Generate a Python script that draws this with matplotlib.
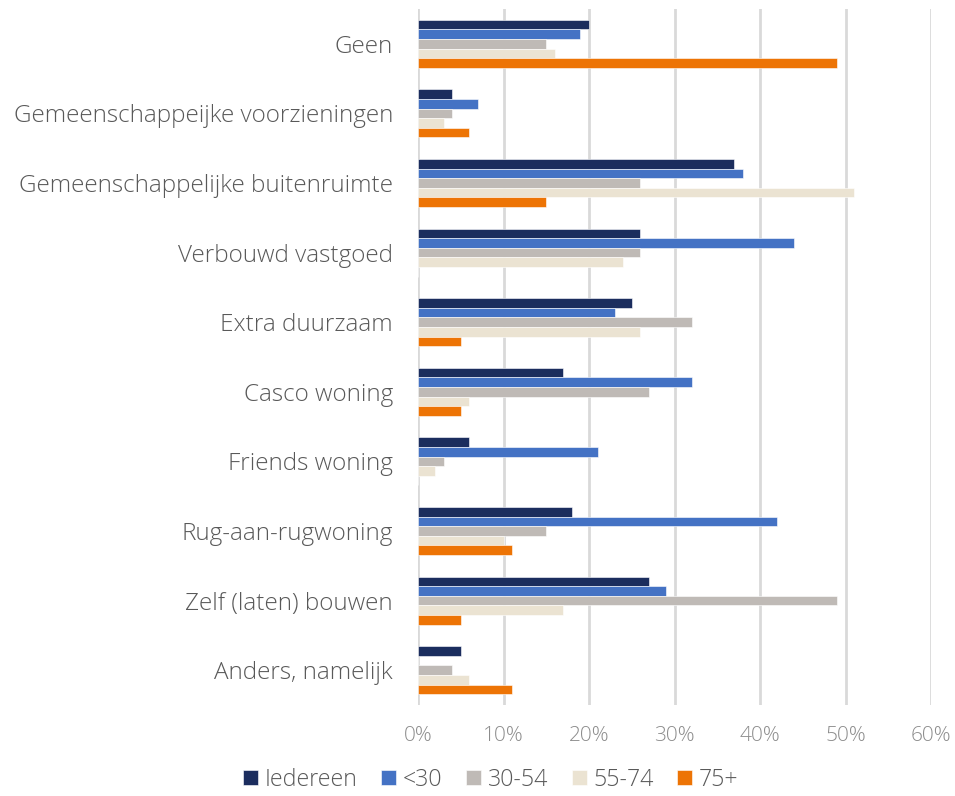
import matplotlib
matplotlib.use("Agg")
import matplotlib.pyplot as plt
import numpy as np

categories = ["Geen", "Gemeenschappeijke voorzieningen", "Gemeenschappelijke buitenruimte",
              "Verbouwd vastgoed", "Extra duurzaam", "Casco woning", "Friends woning",
              "Rug-aan-rugwoning", "Zelf (laten) bouwen", "Anders, namelijk"]
series_names = ["Iedereen", "<30", "30-54", "55-74", "75+"]
iedereen = [20, 4, 37, 26, 25, 17, 6, 18, 27, 5]
onder30 = [19, 7, 38, 44, 23, 32, 21, 42, 29, 0]
s30_54 = [15, 4, 26, 26, 32, 27, 3, 15, 49, 4]
s55_74 = [16, 3, 51, 24, 26, 6, 2, 10, 17, 6]
s75plus = [49, 6, 15, 0, 5, 5, 0, 11, 5, 11]
xticks = [0, 10, 20, 30, 40, 50, 60]
xticklabels = ["0%", "10%", "20%", "30%", "40%", "50%", "60%"]

colors = ["#1B2D5E", "#4472C4", "#BFBAB6", "#EBE3D2", "#ED7405"]
values = [iedereen, onder30, s30_54, s55_74, s75plus]

plt.rcParams['font.family'] = ['Open Sans', 'DejaVu Sans']
plt.rcParams['font.weight'] = 'light'

fig = plt.figure(figsize=(9.55, 7.96), dpi=100)
ax = fig.add_axes([418/955, 1-705/796, (931-418)/955, (705-9)/796])

y = np.arange(len(categories))
h = 0.138
for i, (name, vals, c) in enumerate(zip(series_names, values, colors)):
    ax.barh(y + (i - 2) * h, vals, height=h, color=c, label=name, zorder=3,
            edgecolor='white', linewidth=0.4)

ax.set_xlim(0, 60)
ax.set_ylim(len(categories) - 0.5, -0.5)
ax.set_xticks(xticks)
ax.set_xticklabels(xticklabels)
ax.set_yticks(y)
ax.set_yticklabels(categories)
ax.grid(axis='x', color='#D9D9D9', linewidth=2, zorder=0)
for s in ax.spines.values():
    s.set_visible(False)
ax.tick_params(axis='y', length=0, pad=18, labelsize=17.5, labelcolor='#595959')
ax.tick_params(axis='x', length=0, pad=15, labelsize=15, labelcolor='#8C8C8C')

handles, labels = ax.get_legend_handles_labels()
leg = fig.legend(handles, labels, loc='lower center', bbox_to_anchor=(0.514, -0.009), ncol=5,
                 frameon=False, fontsize=16.7, handlelength=0.65, handleheight=0.65,
                 handletextpad=0.3, columnspacing=1.0, borderpad=0.0)
for t in leg.get_texts():
    t.set_color('#595959')

fig.savefig("out.png", dpi=100)
